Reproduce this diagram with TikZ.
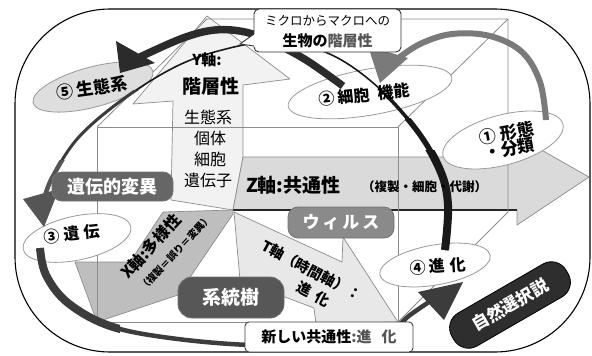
\documentclass[tikz,border=0pt]{standalone}
\usepackage{fontspec}
\setmainfont{Noto Sans CJK JP}
\usetikzlibrary{shapes.geometric}
\definecolor{gY}{HTML}{F2F2F2}
\definecolor{gZ}{HTML}{DADADA}
\definecolor{gT}{HTML}{E8E8E8}
\definecolor{gX}{HTML}{BEBEBE}
\definecolor{gE}{HTML}{DEDEDE}
\definecolor{edge}{HTML}{8C8C8C}
\definecolor{boxA}{HTML}{666666}
\definecolor{boxB}{HTML}{8A8A8A}
\definecolor{boxC}{HTML}{575757}
\definecolor{boxD}{HTML}{2E2E2E}
\definecolor{arcdark}{HTML}{2B2B2B}
\definecolor{arcgray}{HTML}{7A7A7A}
\definecolor{arcmid}{HTML}{3C3C3C}
\definecolor{archead}{HTML}{555555}
\definecolor{txtgray}{HTML}{555555}
\newcommand\fsz[1]{\fontsize{#1}{#1}\selectfont}
\newcommand\arcDdraw[1]{\draw[#1] plot[smooth,tension=0.6] coordinates {(445,250) (448,205) (440,170) (415,128) (372,82) (325,52) (272,42) (222,50) (175,67) (122,100) (78,138) (52,178) (44,200)};}
\newcommand\arcEdraw[1]{\draw[#1] plot[smooth,tension=0.6] coordinates {(40,248) (46,275) (68,303) (110,326) (170,338) (250,345) (330,344) (385,334) (410,315) (432,300)};}
\begin{document}
\begin{tikzpicture}[x=1pt,y=-1pt,
  axisshape/.style={draw=edge,line width=0.7pt,line join=round},
  cubeline/.style={draw=edge,line width=0.8pt},
  ell/.style={ellipse,draw=black!40,line width=0.8pt,fill=white,inner sep=0pt},
  dbox/.style={rounded corners=10pt,draw=black!55,line width=0.8pt,text=white,inner sep=0pt},
  elltxt/.style={font=\bfseries\fsz{16},inner sep=0pt},
  ytxt/.style={font=\fsz{16},inner sep=0pt}]
\useasboundingbox (0,0) rectangle (592,356);
\fill[white] (0,0) rectangle (592,356);
% outer frame
\draw[line width=1.1pt, rounded corners=95pt] (15,9) rectangle (590,352);
% axes
\filldraw[axisshape, fill=gY] (207,16) -- (290,79) -- (243,85) -- (243,157) -- (233,210) -- (171,200) -- (173,101) -- (133,104) -- cycle;
\filldraw[axisshape, fill=gZ] (243,157) -- (515,157) -- (515,135) -- (589,177) -- (517,225) -- (517,210) -- (233,210) -- cycle;
\draw[line width=1.6pt, black!85] (233,210) -- (517,210);
\filldraw[axisshape, fill=gT] (234,212) -- (342,262) -- (343,237) -- (398,322) -- (316,324) -- (314,308) -- (240,280) -- cycle;
\filldraw[axisshape, fill=gX] (233,210) -- (163,212) -- (130,262) -- (75,262) -- (97,322) -- (178,295) -- (233,214) -- cycle;
% cube
\draw[cubeline] (97,127) rectangle (398,322);
\draw[cubeline] (97,127) -- (207,19) -- (508,19) -- (508,212) -- (398,322);
\draw[cubeline] (398,127) -- (508,19);
% ellipses
\node[ell, fill=gE, minimum width=124pt, minimum height=40pt, rotate=15] (e5) at (93,87) {};
\node[ell, minimum width=166pt, minimum height=46pt, rotate=10] (e2) at (370,92) {};
\node[ell, minimum width=124pt, minimum height=50pt, rotate=15] (e1) at (503,140) {};
\node[ell, minimum width=110pt, minimum height=44pt, rotate=12] (e3) at (77,238) {};
\node[ell, minimum width=112pt, minimum height=40pt, rotate=10] (e4) at (435,265) {};
% arc B: 1 -> 2
\draw[line width=6pt, arcgray] plot[smooth, tension=0.6] coordinates {(546,120) (540,82) (522,52) (490,36) (452,34) (420,44) (396,60)};
\fill[arcgray] (368,46) -- (408,58) -- (380,83) -- cycle;
% arc A: 2 -> 5
\draw[line width=7.5pt, arcdark] plot[smooth, tension=0.6] coordinates {(343,86) (306,60) (272,42) (245,32) (215,30) (183,38) (140,57)};
\fill[arcdark] (116,41) -- (155,63) -- (120,73) -- cycle;
% arc D: 4 -> 3 over the top
\arcDdraw{line width=1.6pt, black!90}
\begin{scope}\clip (385,95) rectangle (470,260); \arcDdraw{line width=3.5pt, black!90}\end{scope}
\begin{scope}\clip (405,118) rectangle (470,260); \arcDdraw{line width=5.5pt, black!90}\end{scope}
\begin{scope}\clip (425,150) rectangle (470,260); \arcDdraw{line width=8pt, black!90}\end{scope}
\begin{scope}\clip (0,90) rectangle (140,260); \arcDdraw{line width=3pt, arcmid}\end{scope}
\begin{scope}\clip (0,160) rectangle (70,260); \arcDdraw{line width=4.5pt, archead}\end{scope}
\fill[archead] (23,199) -- (59,189) -- (44,227) -- cycle;
% arc E: 3 -> 4 along the bottom
\arcEdraw{line width=4.5pt, arcmid}
\begin{scope}\clip (0,230) rectangle (120,356); \arcEdraw{line width=8pt, arcmid}\end{scope}
\fill[arcmid] (418,292) -- (463,282) -- (444,320) -- cycle;
% header callout
\node[draw=black!80, line width=0.9pt, fill=white, rounded corners=5pt, minimum width=147pt, minimum height=43pt, inner sep=0pt] (hdr) at (327.5,30.5) {};
\fill[white] (256,33) -- (240,44) -- (257,47) -- cycle;
\draw[black!80, line width=0.9pt] (254,34) -- (240,44) -- (254,46);
\node[font=\fsz{12.5}, inner sep=0pt] (hdr1) at (327.5,21) {ミクロからマクロへの};
\node[font=\bfseries\fsz{15}, inner sep=0pt] (hdr2) at (327.5,41) {生物の\textcolor{txtgray}{階層性}};
% labelled boxes
\node[dbox, fill=boxA, minimum width=121pt, minimum height=29pt, font=\bfseries\fsz{18}] (gv) at (112.5,186.5) {遺伝的変異};
\node[dbox, fill=boxB, minimum width=106pt, minimum height=31pt, font=\bfseries\fsz{17}] (virus) at (341,222.5) {ウ\hspace{3pt}ィ\hspace{3pt}ル\hspace{3pt}ス};
\node[dbox, fill=boxC, minimum width=106pt, minimum height=41pt, rounded corners=14pt, font=\bfseries\fsz{19}] (tree) at (231,297.5) {系統樹};
\node[draw=black!75, line width=0.9pt, fill=white, rounded corners=4pt, minimum width=168pt, minimum height=30pt, inner sep=0pt, font=\bfseries\fsz{15}] (newc) at (329,337) {新しい共通性\textcolor{txtgray}{:進\hspace{10pt}化}};
\node[dbox, fill=boxD, draw=black, rotate=30, minimum width=132pt, minimum height=38pt, rounded corners=17pt, font=\bfseries\fsz{17}] (nat) at (510,305) {自然選択説};
% axis texts
\node[font=\bfseries\fsz{15}, inner sep=0pt] (y1) at (207,60) {Y軸:};
\node[font=\bfseries\fsz{19}, inner sep=0pt] (y2) at (211,86) {階層性};
\node[ytxt] (y3) at (208,117) {生態系};
\node[ytxt] (y4) at (210,138) {個体};
\node[ytxt] (y5) at (210,159) {細胞};
\node[ytxt] (y6) at (208,180) {遺伝子};
\node[anchor=west, font=\bfseries\fsz{19}, inner sep=0pt] (z1) at (246,185) {Z軸:共通性};
\node[anchor=west, font=\bfseries\fsz{12.5}, inner sep=0pt] (z2) at (362,187) {（複製・細胞・代謝）};
\node[rotate=-28, font=\bfseries\fsz{14.5}, inner sep=0pt, align=center] (tax) at (307,279) {T軸（時間軸）：\\[5pt]\hspace*{26pt}進\hspace{6pt}化};
\node[rotate=47, font=\bfseries\fsz{16}, inner sep=0pt, align=center] (xax) at (158,253) {X軸:多様性\\[4pt]\hspace*{24pt}{\fsz{10}（複製＝誤り＝変異）}};
% ellipse texts
\node[elltxt, font=\bfseries\fsz{17}, rotate=8] (t5) at (92,88) {⑤ 生態系};
\node[elltxt, rotate=6] (t2b) at (364,95) {② 細胞\hspace{8pt}機能};
\node[elltxt, font=\bfseries\fsz{17}, rotate=10, align=center] (t1b) at (508,141) {① 形態\\[-1pt]・分類};
\node[elltxt, rotate=6] (t3) at (72,234) {③ 遺\hspace{5pt}伝};
\node[elltxt, rotate=4] (t4) at (438,266) {④ 進\hspace{5pt}化};
\end{tikzpicture}
\end{document}
